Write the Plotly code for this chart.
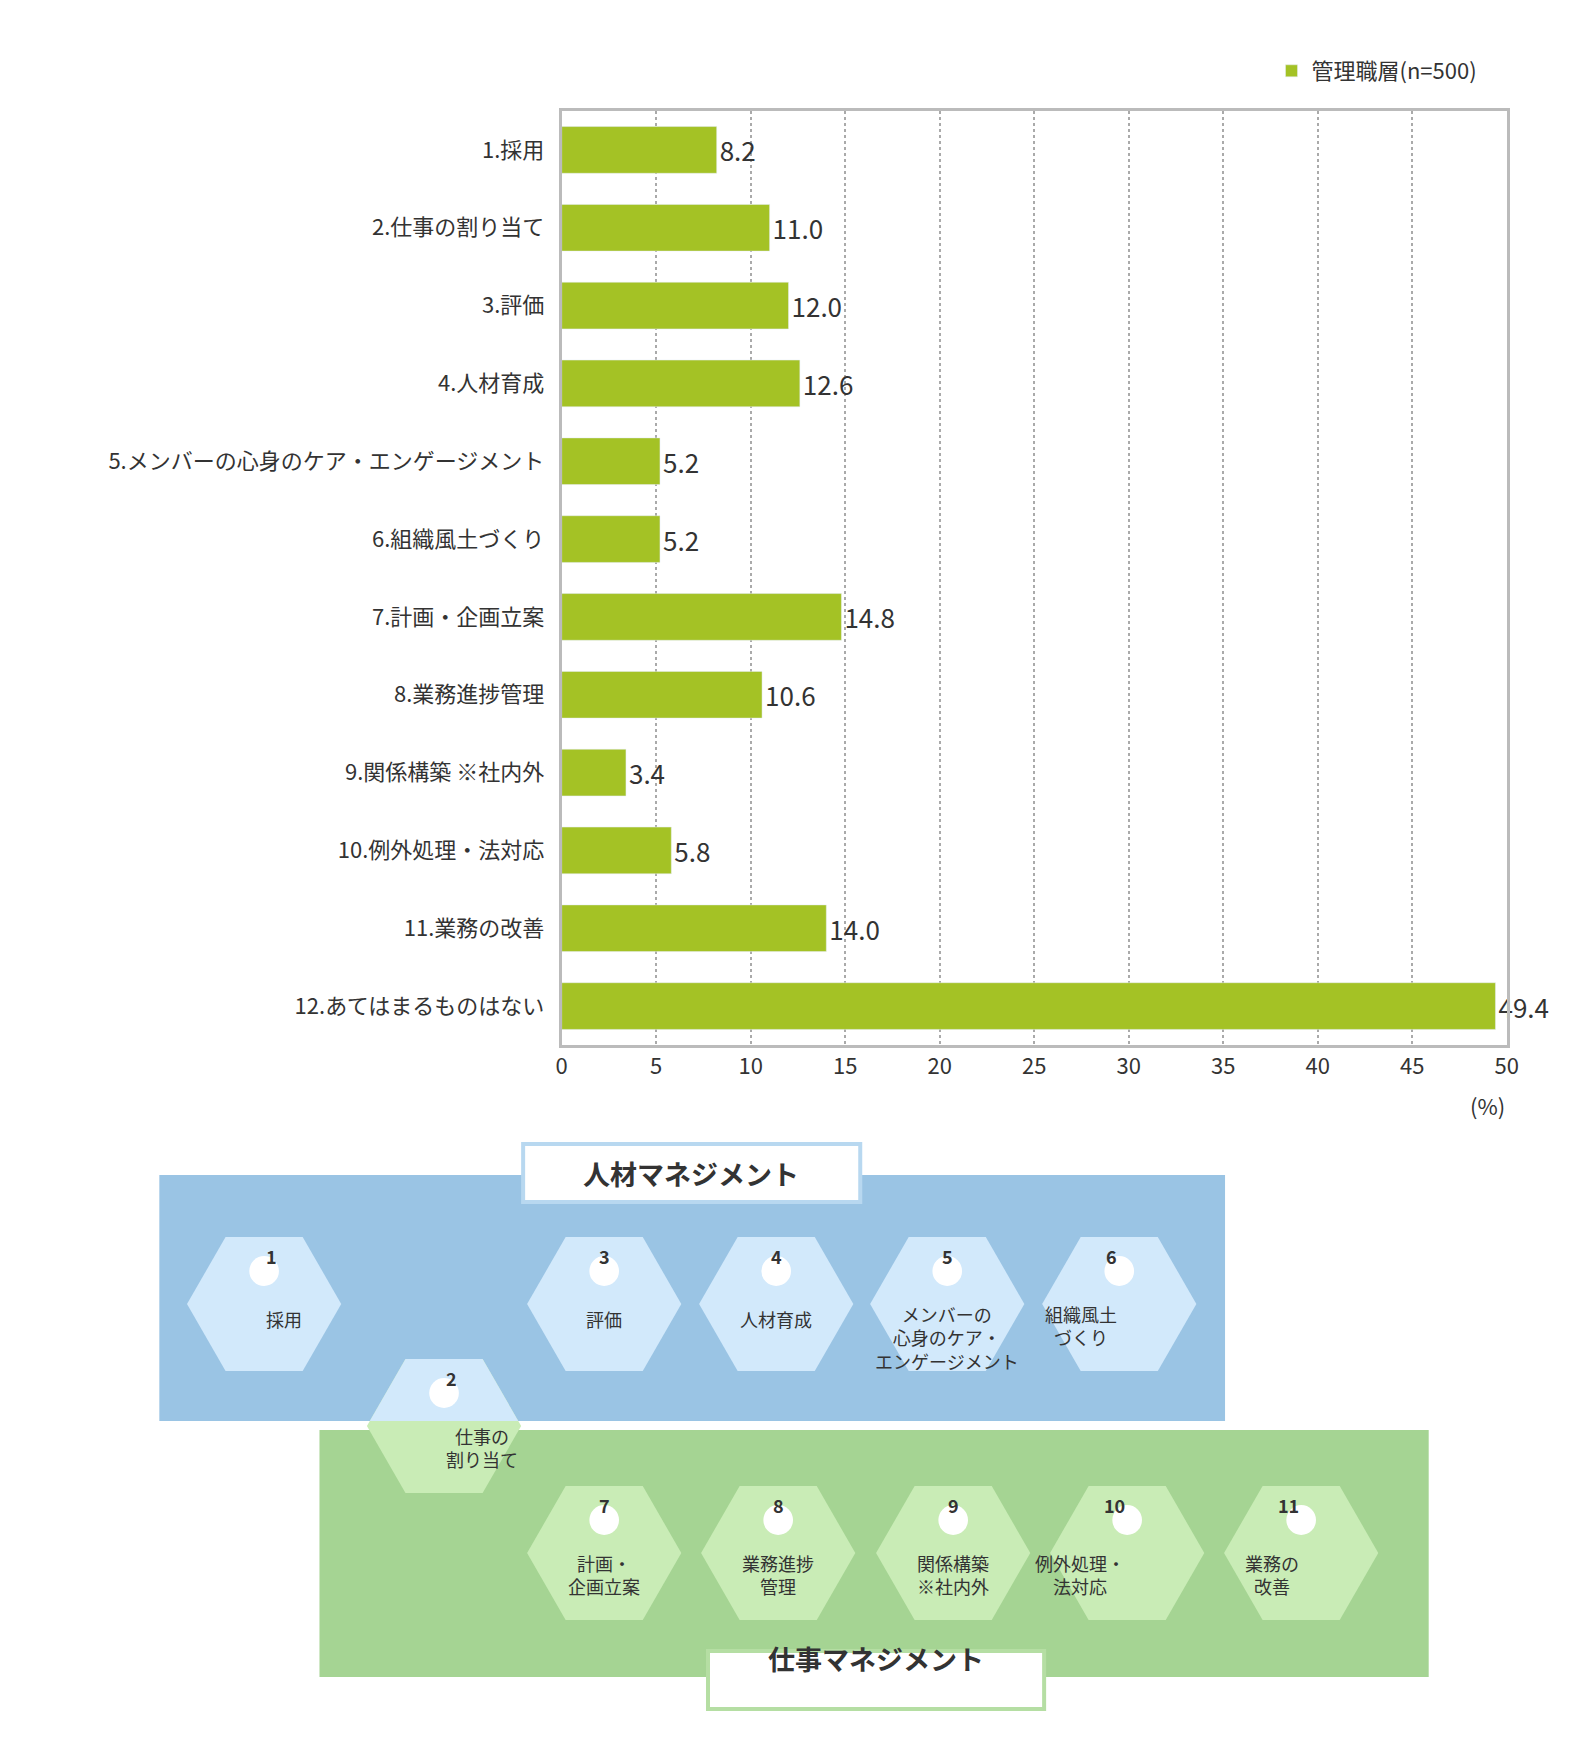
import plotly.graph_objects as go

categories = ['1.採用', '2.仕事の割り当て', '3.評価', '4.人材育成', '5.メンバーの心身のケア・エンゲージメント',
              '6.組織風土づくり', '7.計画・企画立案', '8.業務進捗管理', '9.関係構築 ※社内外',
              '10.例外処理・法対応', '11.業務の改善', '12.あてはまるものはない']
values = [8.2, 11.0, 12.0, 12.6, 5.2, 5.2, 14.8, 10.6, 3.4, 5.8, 14.0, 49.4]
series_name = '管理職層(n=500)'

# hexagon diagram contents
hex_top = [('1', '採用'), ('3', '評価'), ('4', '人材育成'), ('5', 'メンバーの<br>心身のケア・<br>エンゲージメント'), ('6', '組織風土<br>づくり')]
hex_bottom = [('7', '計画・<br>企画立案'), ('8', '業務進捗<br>管理'), ('9', '関係構築<br>※社内外'), ('10', '例外処理・<br>法対応'), ('11', '業務の<br>改善')]
hex_two = ('2', '仕事の<br>割り当て')

W, H = 1580, 1757
FONT = 'Noto Sans CJK JP'
BAR = '#a4c225'
BLUE, LBLUE = '#9ac4e4', '#d2e9fb'
GREEN, LGREEN = '#a5d493', '#c9ecb6'


def px(x):
    return x / W


def py(y):
    return 1 - y / H


fig = go.Figure()
fig.add_trace(go.Bar(
    x=values, y=categories, orientation='h', marker_color=BAR, name=series_name,
    text=[f'{v:.1f}' for v in values], textposition='outside', cliponaxis=False,
    textfont=dict(size=26, color='#333333')))

shapes, ann = [], []


def rect(x0, y0, x1, y1, color, line=None, lw=0):
    shapes.append(dict(type='rect', xref='paper', yref='paper', x0=px(x0), x1=px(x1), y0=py(y1), y1=py(y0),
                       fillcolor=color, line=dict(color=line or color, width=lw), layer='above'))


def poly(pts, color):
    d = 'M ' + ' L '.join(f'{px(x)},{py(y)}' for x, y in pts) + ' Z'
    shapes.append(dict(type='path', xref='paper', yref='paper', path=d, fillcolor=color,
                       line=dict(width=0), layer='above'))


HW, HH = 156, 134


def hexpts(cx, cy):
    return [(cx - HW / 2, cy), (cx - HW / 4, cy - HH / 2), (cx + HW / 4, cy - HH / 2),
            (cx + HW / 2, cy), (cx + HW / 4, cy + HH / 2), (cx - HW / 4, cy + HH / 2)]


def hexlabel(cx, cy, num, label):
    shapes.append(dict(type='circle', xref='paper', yref='paper', x0=px(cx - 15), x1=px(cx + 15),
                       y0=py(cy - 18), y1=py(cy - 48), fillcolor='white', line=dict(width=0), layer='above'))
    ann.append(dict(x=px(cx), y=py(cy - 33), xref='paper', yref='paper', text=f'<b>{num}</b>', showarrow=False,
                    font=dict(size=18, color='#333333', family=FONT)))
    ann.append(dict(x=px(cx), y=py(cy + 5), xref='paper', yref='paper', text=label, showarrow=False,
                    yanchor='top' if label.count('<br>') else 'middle', yshift=10 if label.count('<br>') else -10,
                    font=dict(size=18, color='#333333', family=FONT)))


# boxes
rect(147, 1167, 1225, 1413, BLUE)
rect(309, 1422, 1431, 1669, GREEN)
rect(515, 1136, 856, 1194, 'white', '#b8d8f0', 4)
rect(702, 1643, 1042, 1701, 'white', '#b5dea3', 4)
ann.append(dict(x=px(685), y=py(1165), xref='paper', yref='paper', text='<b>人材マネジメント</b>', showarrow=False,
                font=dict(size=27, color='#333333', family=FONT)))
ann.append(dict(x=px(872), y=py(1672), xref='paper', yref='paper', text='<b>仕事マネジメント</b>', showarrow=False,
                font=dict(size=27, color='#333333', family=FONT)))

for cx, (n, t) in zip([253, 597, 771, 944, 1118], hex_top):
    poly(hexpts(cx, 1296), LBLUE)
    hexlabel(cx, 1296, n, t)
for cx, (n, t) in zip([597, 773, 950, 1126, 1302], hex_bottom):
    poly(hexpts(cx, 1545), LGREEN)
    hexlabel(cx, 1545, n, t)

# hexagon 2, blue on top and green below
cx, cy = 435, 1418
poly(hexpts(cx, cy), LGREEN)
cut = 1413
dx = HW / 4 * (cy - cut) / (HH / 2)
poly([(cx - HW / 2 + dx, cut), (cx - HW / 4, cy - HH / 2), (cx + HW / 4, cy - HH / 2), (cx + HW / 2 - dx, cut)], LBLUE)
hexlabel(cx, cy, *hex_two)

ann.append(dict(x=px(1510), y=py(1097), xref='paper', yref='paper', text='(%)', showarrow=False,
                font=dict(size=22, color='#333333', family=FONT)))

fig.update_layout(
    width=W, height=H, margin=dict(l=0, r=0, t=0, b=0), plot_bgcolor='white', paper_bgcolor='white',
    font=dict(family=FONT, color='#333333', size=22), bargap=0.4,
    showlegend=True,
    legend=dict(x=px(1272), y=py(63), xanchor='left', yanchor='middle', font=dict(size=22), bgcolor='rgba(0,0,0,0)'),
    xaxis=dict(domain=[px(554), px(1510)], range=[0, 50], dtick=5, showgrid=True, gridcolor='#aaaaaa',
               griddash='dot', gridwidth=2, showline=True, linecolor='#bbbbbb', linewidth=3, mirror=True,
               ticks='', zeroline=False, tickfont=dict(size=22)),
    yaxis=dict(domain=[py(1037), py(103)], autorange='reversed', showline=True, linecolor='#bbbbbb',
               linewidth=3, mirror=True, ticks='outside', ticklen=10, tickcolor='white', tickfont=dict(size=22)),
    shapes=shapes, annotations=ann)

fig.write_html('out.html')
